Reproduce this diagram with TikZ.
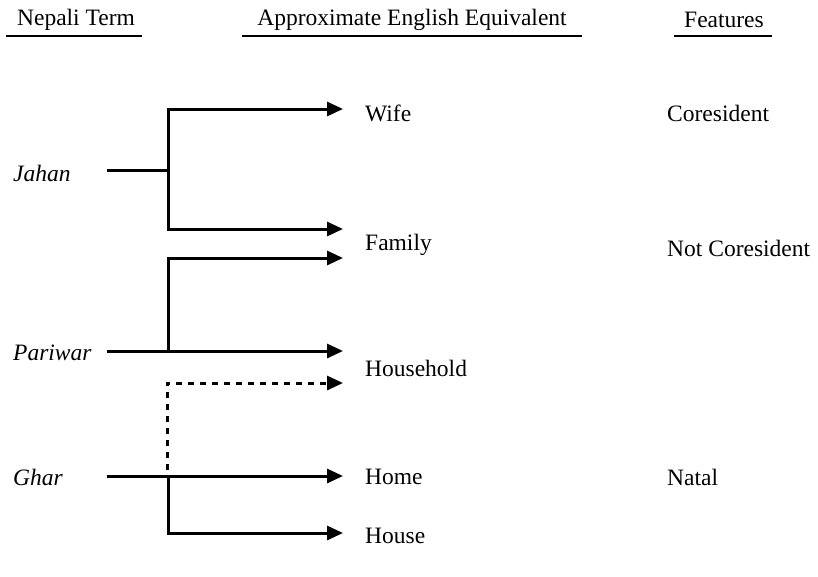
\documentclass[tikz,border=0pt]{standalone}
\usepackage{fontspec}
\setmainfont{Liberation Serif}
\usetikzlibrary{arrows.meta}
\begin{document}
\begin{tikzpicture}[x=1pt,y=-1pt,
  font=\fontsize{23.5}{28}\selectfont,
  txt/.style={anchor=west,inner sep=0pt},
  hdr/.style={anchor=center,inner sep=0pt},
  uline/.style={line width=1.6pt},
  conn/.style={line width=3pt},
  arr/.style={line width=3pt,-{Triangle[length=16pt,width=14pt]}},
  dsh/.style={line width=3pt,dash pattern=on 6pt off 6pt,-{Triangle[length=16pt,width=14pt]}}]
\useasboundingbox (0,0) rectangle (818,576);
% headers
\node[hdr] (h1) at (76,20) {Nepali Term};
\node[hdr] (h2) at (412,20) {Approximate English Equivalent};
\node[hdr] (h3) at (724,20) {Features};
\coordinate (u1a) at (6,36);  \coordinate (u1b) at (142,36);
\coordinate (u2a) at (242,36); \coordinate (u2b) at (582,36);
\coordinate (u3a) at (674,36); \coordinate (u3b) at (772,36);
\draw[uline] (u1a) -- (u1b);
\draw[uline] (u2a) -- (u2b);
\draw[uline] (u3a) -- (u3b);
% Nepali terms
\node[txt] (jahan) at (13,173) {\itshape Jahan};
\node[txt] (pariwar) at (13,353) {\itshape Pariwar};
\node[txt] (ghar) at (13,477) {\itshape Ghar};
% English
\node[txt] (wife) at (365,113) {Wife};
\node[txt] (family) at (365,245) {Family};
\node[txt] (household) at (365,368) {Household};
\node[txt] (home) at (365,477) {Home};
\node[txt] (house) at (365,536) {House};
% features
\node[txt] (cores) at (667,113) {Coresident};
\node[txt] (notcores) at (667,248) {Not Coresident};
\node[txt] (natal) at (667,477) {Natal};
% junction coordinates
\coordinate (jl) at (107,170); \coordinate (jj) at (168,170);
\coordinate (pl) at (107,351); \coordinate (pj) at (168,351);
\coordinate (gl) at (107,476); \coordinate (gj) at (168,476);
\coordinate (dj) at (167,470);
% arrow tips
\coordinate (tw) at (343,109);
\coordinate (tf1) at (343,229);
\coordinate (tf2) at (343,258);
\coordinate (tp) at (343,351);
\coordinate (th) at (343,383);
\coordinate (tho) at (343,476);
\coordinate (tha) at (343,533);
% connectors
\draw[conn] (jl) -- (jj);
\draw[arr] (jj) |- (tw);
\draw[arr] (jj) |- (tf1);
\draw[arr] (pl) -- (tp);
\draw[arr] (pj) |- (tf2);
\draw[dsh] (dj) |- (th);
\draw[arr] (gl) -- (tho);
\draw[arr] (gj) |- (tha);
\end{tikzpicture}
\end{document}
